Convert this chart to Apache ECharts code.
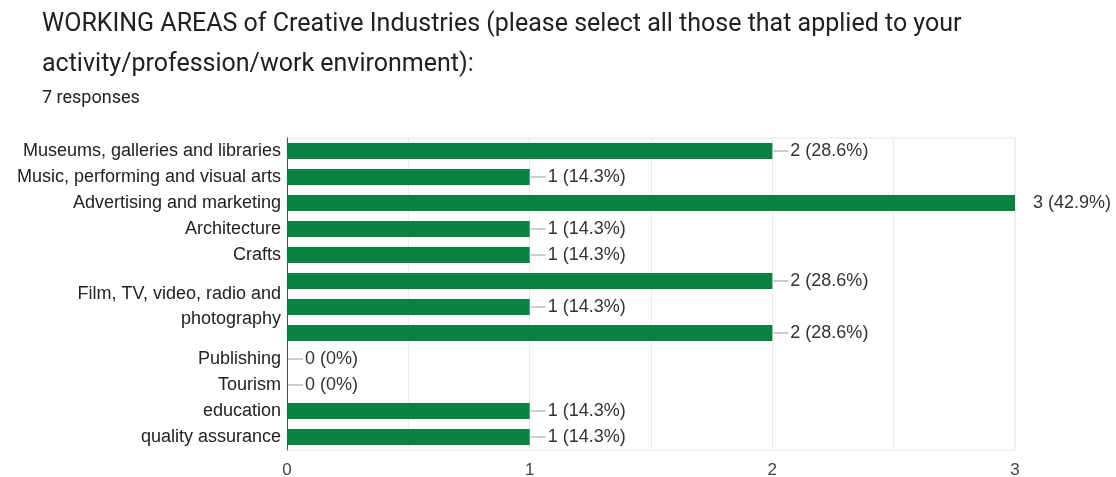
<!DOCTYPE html>
<html>
<head>
<meta charset="utf-8">
<script src="https://cdn.jsdelivr.net/npm/echarts@6/dist/echarts.min.js"></script>
<style>html,body{margin:0;padding:0;background:#fff;}#c{width:1116px;height:477px;}</style>
</head>
<body>
<div id="c"></div>
<script>
var titleLines = 'WORKING AREAS of Creative Industries (please select all those that applied to your\nactivity/profession/work environment):';
var subtitle = '7 responses';
var totalResponses = 7;
var categories = [
  'Museums, galleries and libraries',
  'Music, performing and visual arts',
  'Advertising and marketing',
  'Architecture',
  'Crafts',
  '',
  'Film, TV, video, radio and\nphotography',
  '',
  'Publishing',
  'Tourism',
  'education',
  'quality assurance'
];
var counts = [2, 1, 3, 1, 1, 2, 1, 2, 0, 0, 1, 1];
var xTicks = [0, 1, 2, 3];

var axisMax = xTicks[xTicks.length - 1];
var LF = "'Liberation Sans', Arial, sans-serif";
var chart = echarts.init(document.getElementById('c'));
chart.setOption({
  animation: false,
  title: [
    {text: titleLines, left: 37, top: 0,
     textStyle: {fontFamily: 'Roboto, Arial, sans-serif', fontSize: 25, fontWeight: 'normal', color: '#202124', lineHeight: 40}},
    {text: subtitle, left: 37, top: 84,
     textStyle: {fontFamily: 'Roboto, Arial, sans-serif', fontSize: 18, fontWeight: 'normal', color: '#202124'}}
  ],
  grid: {left: 287, right: 101, top: 138, bottom: 27, show: true, borderColor: '#e6e6e6', borderWidth: 1,
         containLabel: false, outerBoundsMode: 'none'},
  xAxis: {
    type: 'value', min: 0, max: axisMax, interval: 0.5,
    axisLine: {show: false}, axisTick: {show: false},
    splitLine: {lineStyle: {color: '#ebebeb', width: 1}},
    axisLabel: {
      margin: 12, color: '#444', fontSize: 17, fontFamily: LF,
      formatter: function (v) { return xTicks.indexOf(v) >= 0 ? String(v) : ''; }
    }
  },
  yAxis: {
    type: 'category', data: categories, inverse: true,
    axisLine: {show: true, lineStyle: {color: '#555', width: 1}},
    axisTick: {show: false},
    axisLabel: {margin: 6, color: '#222', fontSize: 18, lineHeight: 25, fontFamily: LF, interval: 0}
  },
  series: [{
    type: 'bar', data: counts, barWidth: 16,
    itemStyle: {color: '#0b8043'},
    label: {
      show: true, position: 'right', distance: 1,
      formatter: function (p) {
        var pct = p.value === 0 ? '0%' : (p.value / totalResponses * 100).toFixed(1) + '%';
        var txt = p.value + ' (' + pct + ')';
        return (p.value >= axisMax ? '{gap|}' : '{ln|}') + '{t|' + txt + '}';
      },
      rich: {
        ln: {width: 15, height: 1, backgroundColor: '#999'},
        gap: {width: 15, height: 1},
        t: {fontSize: 18, color: '#333', fontFamily: LF, padding: [0, 0, 0, 2]}
      }
    }
  }]
});
</script>
</body>
</html>
